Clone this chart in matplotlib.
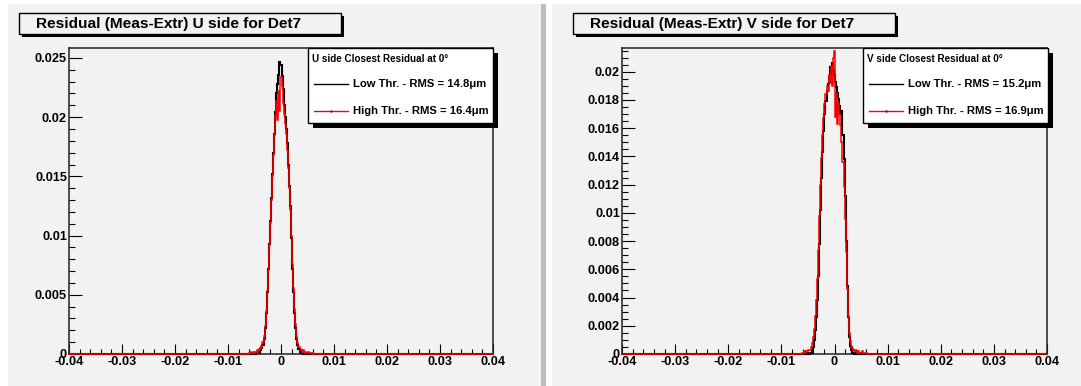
import numpy as np
import matplotlib
matplotlib.use("Agg")
import matplotlib.pyplot as plt
from matplotlib.patches import Rectangle
from matplotlib.ticker import MultipleLocator, FuncFormatter

plt.rcParams['font.family'] = ['Liberation Sans', 'DejaVu Sans']

# ---------------- data ----------------
panel_titles = ["Residual (Meas-Extr) U side for Det7",
                "Residual (Meas-Extr) V side for Det7"]
legend_titles = ["U side Closest Residual at 0\u00b0",
                 "V side Closest Residual at 0\u00b0"]
low_labels = ["Low Thr. - RMS = 14.8\u03bcm", "Low Thr. - RMS = 15.2\u03bcm"]
high_labels = ["High Thr. - RMS = 16.4\u03bcm", "High Thr. - RMS = 16.9\u03bcm"]

x_range = (-0.04, 0.04)
y_max = [0.02584, 0.02168]
y_major = [0.005, 0.002]
y_minor = [0.001, 0.0005]

bin_width = 0.0002
first_center = -0.006   # centre of first listed bin

# U side, low threshold (black)
u_low = [0, 0, 0.0001, 0, 0, 0.0001, 0, 0.0001, 0.0001, 0.0001, 0.0002,
         0.0003, 0.0005, 0.0008, 0.0013, 0.0022, 0.0035, 0.0052, 0.0072, 0.0093, 0.0112,
         0.0132, 0.0152, 0.0170, 0.0186, 0.0204, 0.0220, 0.0228, 0.0236, 0.0247,
         0.0244,
         0.0235, 0.0224, 0.0210, 0.0200, 0.0190, 0.0178, 0.0160, 0.0142, 0.0125, 0.0098,
         0.0072, 0.0052, 0.0035, 0.0022, 0.0013, 0.0008, 0.0004, 0.0002, 0.0001,
         0.0001, 0, 0.0001, 0, 0, 0, 0.0001, 0, 0, 0, 0]
# U side, high threshold (red)
u_high = [0.0001, 0.0002, 0.0001, 0.0001, 0.0002, 0.0001, 0.0002, 0.0002, 0.0003, 0.0002, 0.0004,
          0.0005, 0.0007, 0.0010, 0.0015, 0.0024, 0.0036, 0.0053, 0.0071, 0.0092, 0.0111,
          0.0130, 0.0150, 0.0168, 0.0185, 0.0201, 0.0214, 0.0198, 0.0222, 0.0205,
          0.0234,
          0.0226, 0.0212, 0.0203, 0.0194, 0.0186, 0.0172, 0.0157, 0.0140, 0.0122, 0.0100,
          0.0076, 0.0056, 0.0038, 0.0025, 0.0015, 0.0009, 0.0006, 0.0004, 0.0003,
          0.0002, 0.0003, 0.0001, 0.0002, 0.0001, 0.0001, 0.0002, 0.0001, 0.0001, 0.0001, 0.0001]
# V side, low threshold (black)
v_low = [0, 0, 0.0001, 0, 0, 0.0001, 0, 0.0001,
         0.0001, 0.0003, 0.0005, 0.0010, 0.0017, 0.0026, 0.0038, 0.0055, 0.0078, 0.0102,
         0.0125, 0.0143, 0.0158, 0.0170, 0.0179, 0.0186, 0.0191, 0.0196, 0.0203, 0.0199,
         0.0206, 0.0201,
         0.0198,
         0.0193, 0.0189, 0.0185, 0.0181, 0.0176, 0.0170, 0.0172, 0.0155, 0.0138, 0.0112,
         0.0080, 0.0048, 0.0026, 0.0012, 0.0006, 0.0003, 0.0001,
         0.0001, 0, 0, 0.0001, 0, 0, 0, 0.0001, 0, 0, 0, 0, 0]
# V side, high threshold (red)
v_high = [0.0001, 0.0001, 0.0002, 0.0001, 0.0002, 0.0002, 0.0003, 0.0003,
          0.0005, 0.0008, 0.0012, 0.0018, 0.0027, 0.0038, 0.0053, 0.0074, 0.0098, 0.0120,
          0.0139, 0.0155, 0.0167, 0.0177, 0.0184, 0.0190, 0.0186, 0.0198, 0.0192, 0.0204,
          0.0190, 0.0210,
          0.0215,
          0.0168, 0.0185, 0.0163, 0.0178, 0.0170, 0.0162, 0.0150, 0.0136, 0.0118, 0.0096,
          0.0072, 0.0046, 0.0027, 0.0015, 0.0009, 0.0006, 0.0004,
          0.0003, 0.0002, 0.0003, 0.0002, 0.0001, 0.0002, 0.0001, 0.0001, 0.0002, 0.0001,
          0.0001, 0.0001, 0.0001]

series = [(u_low, u_high), (v_low, v_high)]

# ---------------- layout ----------------
W, H = 1081, 386
fig = plt.figure(figsize=(W / 100, H / 100), dpi=100, facecolor='white')


def fx(x):
    return x / W


def fy(y):
    return 1 - y / H


def rect_px(x0, y0, x1, y1, **kw):
    r = Rectangle((fx(x0), fy(y1)), (x1 - x0) / W, (y1 - y0) / H,
                  transform=fig.transFigure, **kw)
    fig.add_artist(r)
    return r


bg = '#f2f2f2'
# canvases
rect_px(8, 4, 541, 386, facecolor=bg, edgecolor='none', zorder=0)
rect_px(541, 4, 546, 386, facecolor='#bdbdbd', edgecolor='none', zorder=0)
rect_px(552, 4, 1081, 386, facecolor=bg, edgecolor='none', zorder=0)

ax_left_px = [69, 622]
ax_right_px = [493, 1047]
ax_top_px, ax_bot_px = 48, 354
title_box = [(19, 13, 341, 34), (573, 13, 895, 34)]
leg_box = [(308, 48, 493, 123), (863, 48, 1048, 123)]

tick_font = dict(family='Liberation Sans', weight='bold', size=9.2)


def fmt(v, pos):
    if abs(v) < 1e-12:
        return '0'
    return '%g' % v


for i in range(2):
    l, r = ax_left_px[i], ax_right_px[i]
    ax = fig.add_axes([fx(l), fy(ax_bot_px), (r - l) / W, (ax_bot_px - ax_top_px) / H])
    ax.set_facecolor(bg)
    ax.set_xlim(*x_range)
    ax.set_ylim(0, y_max[i])

    nfull = int(round((x_range[1] - x_range[0]) / bin_width)) + 1
    edges = x_range[0] - bin_width / 2 + bin_width * np.arange(nfull + 1)
    offset = int(round((first_center - x_range[0]) / bin_width))
    low, high = series[i]
    full_low = np.zeros(nfull)
    full_high = np.zeros(nfull)
    full_low[offset:offset + len(low)] = low
    full_high[offset:offset + len(high)] = high
    ax.stairs(full_low, edges, color='black', lw=1.5, zorder=3, clip_on=False)
    ax.stairs(full_high, edges, color='red', lw=1.1, zorder=4, clip_on=False)

    ax.xaxis.set_major_locator(MultipleLocator(0.01))
    ax.xaxis.set_minor_locator(MultipleLocator(0.002))
    ax.yaxis.set_major_locator(MultipleLocator(y_major[i]))
    ax.yaxis.set_minor_locator(MultipleLocator(y_minor[i]))
    ax.xaxis.set_major_formatter(FuncFormatter(fmt))
    ax.yaxis.set_major_formatter(FuncFormatter(fmt))
    ax.tick_params(axis='x', which='major', direction='in', length=7.5, width=0.8,
                   pad=1.5, top=False)
    ax.tick_params(axis='x', which='minor', direction='in', length=3.8, width=0.8, top=False)
    ax.tick_params(axis='y', which='major', direction='in', length=9.5, width=0.8,
                   pad=1.5, right=False)
    ax.tick_params(axis='y', which='minor', direction='in', length=4.5, width=0.8, right=False)
    for lab in ax.get_xticklabels() + ax.get_yticklabels():
        lab.set_fontproperties(matplotlib.font_manager.FontProperties(**tick_font))
    for s in ax.spines.values():
        s.set_linewidth(1.1)
        s.set_color('#222222')

    # title pave with shadow
    x0, y0, x1, y1 = title_box[i]
    rect_px(x0 + 3, y0 + 3, x1 + 3, y1 + 3, facecolor='black', edgecolor='none', zorder=5)
    rect_px(x0, y0, x1, y1, facecolor=bg, edgecolor='black', lw=1.0, zorder=6)
    fig.text(fx(x0 + 17), fy((y0 + y1) / 2 + 0.5), panel_titles[i],
             ha='left', va='center', fontsize=11.1, fontweight='bold', zorder=7)

    # legend with shadow
    x0, y0, x1, y1 = leg_box[i]
    rect_px(x0 + 5, y0 + 5, x1 + 5, y1 + 5, facecolor='black', edgecolor='none', zorder=5)
    rect_px(x0, y0, x1, y1, facecolor='white', edgecolor='black', lw=1.0, zorder=6)
    fig.text(fx(x0 + 4), fy(y0 + 11), legend_titles[i], ha='left', va='center',
             fontsize=7.1, fontweight='bold', zorder=7)
    for j, (lab, col) in enumerate([(low_labels[i], 'black'), (high_labels[i], 'red')]):
        yy = y0 + 36 + j * 27
        fig.add_artist(plt.Line2D([fx(x0 + 6), fx(x0 + 40)], [fy(yy), fy(yy)],
                                  transform=fig.transFigure, color=col, lw=1.0, zorder=7))
        if col == 'red':
            fig.add_artist(plt.Line2D([fx(x0 + 23)], [fy(yy)], transform=fig.transFigure,
                                      marker='.', markersize=1.5, color='#333333',
                                      lw=0, zorder=8))
        fig.text(fx(x0 + 45), fy(yy), lab, ha='left', va='center',
                 fontsize=8.1, fontweight='bold', zorder=7)

fig.savefig('out.png', dpi=100, facecolor='white')
